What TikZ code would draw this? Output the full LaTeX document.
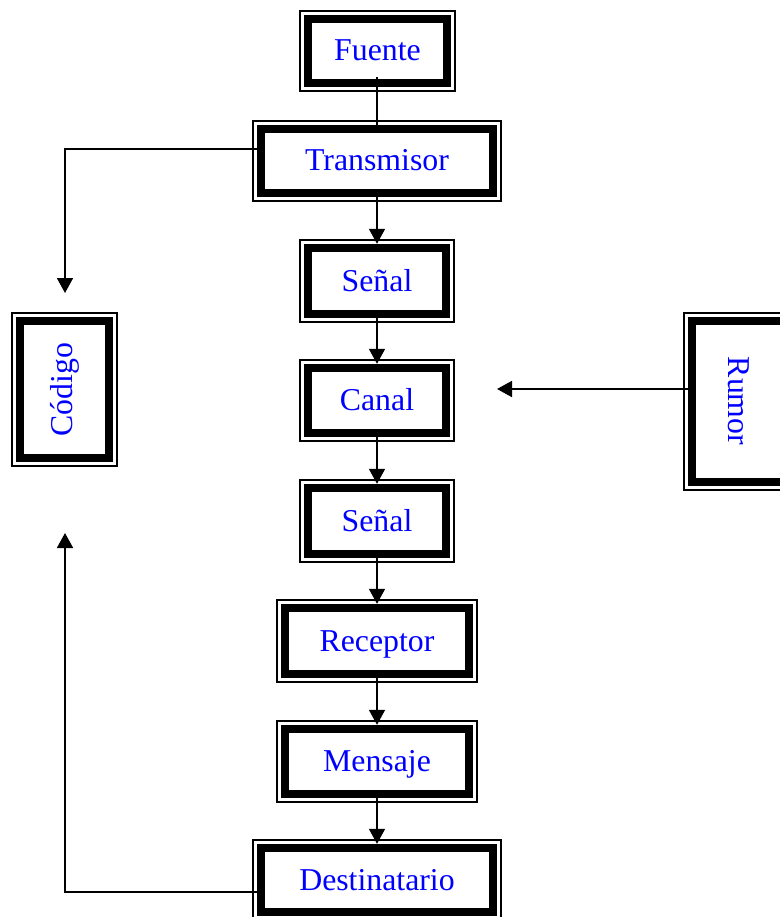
\documentclass[tikz,border=0pt]{standalone}
\usepackage{fontspec}
\setmainfont{Liberation Serif}
\usetikzlibrary{arrows.meta}

\definecolor{labelblue}{RGB}{0,0,255}

\tikzset{
  thinframe/.style={draw=black, line width=1.9pt},
  labelfont/.style={text=labelblue, font=\fontsize{31.8}{38}\selectfont},
  thickframe/.style={draw=black, line width=7.8pt, rectangle, inner sep=0pt, labelfont},
  flatlabel/.style={text height=22pt, text depth=2pt},
  link/.style={draw=black, line width=1.8pt},
  flow/.style={link, -{Triangle[length=15pt, width=16pt]}},
}

% Double frame: thin outer rule, small gap, heavy inner rule.
% #1 name, #2..#5 outer corners (x1,y1,x2,y2), #6 extra node options, #7 text
\newcommand\twoframe[7]{%
  \draw[thinframe] (#2+0.95,#3+0.95) rectangle (#4-0.95,#5-0.95);
  \node[thickframe, #6, minimum width={#4-#2-17.4}, minimum height={#5-#3-17.4}]
    (#1) at ({(#2+#4)/2},{(#3+#5)/2}) {#7};
}

\begin{document}
\begin{tikzpicture}[x=1pt, y=-1pt]
  \useasboundingbox[fill=white] (0,0) rectangle (779,917);

  % main column
  \twoframe{fuente}{299}{10}{456}{92}{flatlabel}{Fuente}
  \twoframe{transmisor}{252}{120}{502}{202}{flatlabel}{Transmisor}
  \twoframe{senalA}{299}{239}{455}{323}{flatlabel}{Señal}
  \twoframe{canal}{299}{359}{455}{442}{flatlabel}{Canal}
  \twoframe{senalB}{299}{479}{455}{563}{flatlabel}{Señal}
  \twoframe{receptor}{276}{599}{478}{683}{flatlabel}{Receptor}
  \twoframe{mensaje}{276}{720}{478}{803}{flatlabel}{Mensaje}
  \twoframe{destinatario}{252}{839}{502}{921}{flatlabel}{Destinatario}

  % side boxes
  \twoframe{codigo}{11}{312}{118}{467}{}{\rotatebox{90}{Código}}
  \twoframe{rumor}{683}{312}{876}{491}{}{}
  % the Rumor label sits left of the frame's centre, near the page edge
  \node[labelfont, inner sep=0pt] (rumortext) at (739,401) {\rotatebox{-90}{Rumor}};

  % free ends of connectors
  \coordinate (codigoIn) at (65,293);
  \coordinate (codigoBack) at (65,533);
  \coordinate (canalIn) at (497,389);
  \coordinate (fuenteOut) at (377,77);

  % column connectors
  \draw[link] (fuenteOut) -- (transmisor.north);
  \draw[flow] (transmisor.south) -- (senalA.north);
  \draw[flow] (senalA.south) -- (canal.north);
  \draw[flow] (canal.south) -- (senalB.north);
  \draw[flow] (senalB.south) -- (receptor.north);
  \draw[flow] (receptor.south) -- (mensaje.north);
  \draw[flow] (mensaje.south) -- (destinatario.north);

  % side connectors
  \draw[flow] ([yshift=12pt]transmisor.west) -| (codigoIn);
  \draw[flow] ([yshift=-12pt]destinatario.west) -| (codigoBack);
  \draw[flow] ([yshift=12.5pt]rumor.west) -- (canalIn);
\end{tikzpicture}
\end{document}
